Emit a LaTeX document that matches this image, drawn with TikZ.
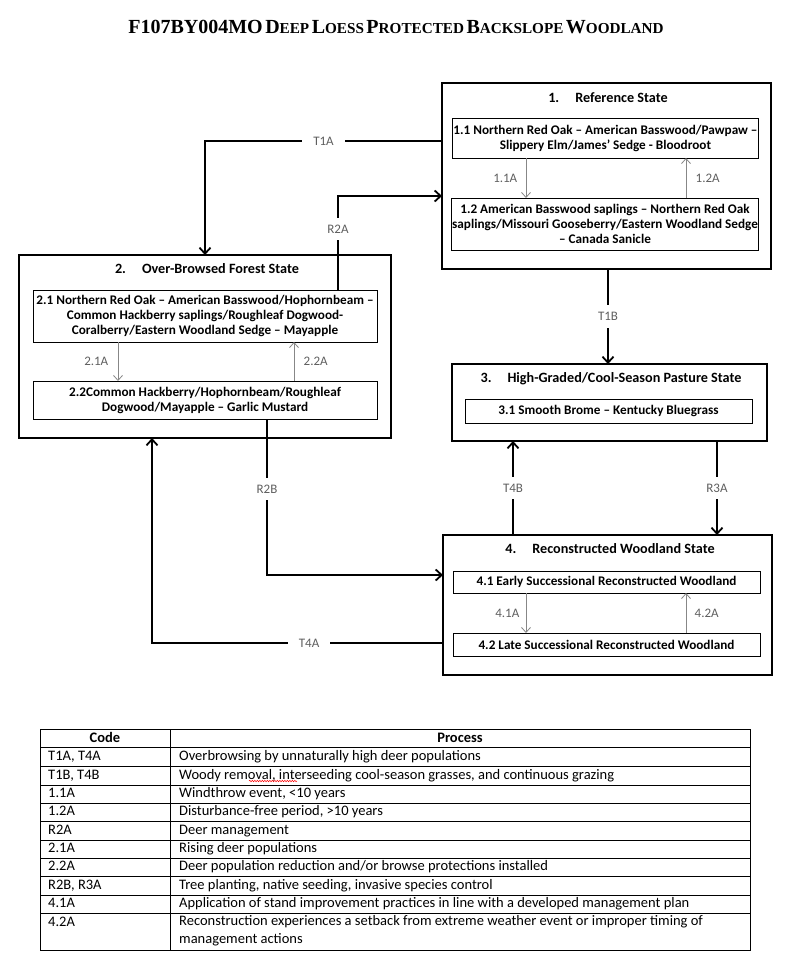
\documentclass[tikz,border=0pt]{standalone}
\usepackage{fontspec}
\setmainfont{Carlito}
\newfontfamily\titlefont{Liberation Serif}
\usetikzlibrary{arrows.meta, decorations.pathmorphing}

\definecolor{lblgray}{RGB}{95,95,95}
\definecolor{phasegray}{RGB}{135,135,135}
\newcommand{\capword}[2]{{\fontsize{20}{21}\selectfont #1}{\fontsize{15.2}{21}\selectfont #2}}

\begin{document}
\begin{tikzpicture}[x=1pt, y=-1pt,
    statebox/.style={draw, line width=1.8pt, inner sep=0pt, outer sep=0pt},
    phasebox/.style={draw, line width=1pt, font=\bfseries\fontsize{13.2}{15}\selectfont, align=center, inner xsep=1pt, inner ysep=0pt, outer sep=0pt},
    statetitle/.style={font=\bfseries\fontsize{14.2}{16}\selectfont},
    trans/.style={line width=1.8pt, -{Straight Barb[length=6pt, width=11pt]}},
    phasearrow/.style={draw=phasegray, line width=0.8pt, -{Straight Barb[length=5pt, width=9pt]}},
    lbl/.style={fill=white, text=lblgray, font=\fontsize{13}{15}\selectfont, inner xsep=11pt, inner ysep=7pt},
    phaselbl/.style={text=lblgray, font=\fontsize{13}{15}\selectfont},
    tblhead/.style={font=\bfseries\fontsize{14.5}{16}\selectfont, text height=10pt, text depth=3pt, inner sep=0pt},
    tbltext/.style={font=\fontsize{14.5}{18}\selectfont, anchor=west, text height=10pt, text depth=3pt, inner sep=0pt}]
\useasboundingbox (0,0) rectangle (800,969);

\node[font=\titlefont\bfseries] (title) at (396,27) {\capword{F107BY004MO}{} \capword{D}{EEP} \capword{L}{OESS} \capword{P}{ROTECTED} \capword{B}{ACKSLOPE} \capword{W}{OODLAND}};

% state 1
\node[statebox, minimum width=329pt, minimum height=186pt] (s1) at (606.5,176) {};
\node[statetitle] (s1t) at (608,98) {1.\hspace{16pt}Reference State};
\node[phasebox, minimum width=305pt, minimum height=40pt] (b11) at (605.5,138) {1.1 Northern Red Oak – American Basswood/Pawpaw –\\Slippery Elm/James’ Sedge - Bloodroot};
\node[phasebox, minimum width=306pt, minimum height=52pt] (b12) at (605,224) {1.2 American Basswood saplings – Northern Red Oak\\saplings/Missouri Gooseberry/Eastern Woodland Sedge\\– Canada Sanicle};

% state 2
\node[statebox, minimum width=372pt, minimum height=183pt] (s2) at (205,346.5) {};
\node[statetitle] (s2t) at (207,269) {2.\hspace{16pt}Over-Browsed Forest State};
\node[phasebox, minimum width=344pt, minimum height=52pt] (b21) at (205,316) {2.1 Northern Red Oak – American Basswood/Hophornbeam –\\Common Hackberry saplings/Roughleaf Dogwood-\\Coralberry/Eastern Woodland Sedge – Mayapple};
\node[phasebox, minimum width=344pt, minimum height=38pt] (b22) at (205,400) {2.2Common Hackberry/Hophornbeam/Roughleaf\\Dogwood/Mayapple – Garlic Mustard};

% state 3
\node[statebox, minimum width=315pt, minimum height=77pt] (s3) at (609.5,402.5) {};
\node[statetitle] (s3t) at (611,379) {3.\hspace{16pt}High-Graded/Cool-Season Pasture State};
\node[phasebox, minimum width=287pt, minimum height=24pt] (b31) at (608.5,411) {3.1 Smooth Brome – Kentucky Bluegrass};

% state 4
\node[statebox, minimum width=329pt, minimum height=140pt] (s4) at (607.5,605) {};
\node[statetitle] (s4t) at (610,549) {4.\hspace{16pt}Reconstructed Woodland State};
\node[phasebox, minimum width=307pt, minimum height=22pt] (b41) at (606.5,582) {4.1 Early Successional Reconstructed Woodland};
\node[phasebox, minimum width=307pt, minimum height=23pt] (b42) at (606.5,644.5) {4.2 Late Successional Reconstructed Woodland};

% community pathways
\coordinate (p11a) at (526,0);
\coordinate (p12a) at (686,0);
\coordinate (p21a) at (118,0);
\coordinate (p22a) at (294,0);
\coordinate (p41a) at (526,0);
\coordinate (p42a) at (686,0);
\draw[phasearrow] (b11.south -| p11a) -- node[phaselbl, left=5pt] {1.1A} (b12.north -| p11a);
\draw[phasearrow] (b12.north -| p12a) -- node[phaselbl, right=6pt] {1.2A} (b11.south -| p12a);
\draw[phasearrow] (b21.south -| p21a) -- node[phaselbl, left=6pt] {2.1A} (b22.north -| p21a);
\draw[phasearrow] (b22.north -| p22a) -- node[phaselbl, right=6pt] {2.2A} (b21.south -| p22a);
\draw[phasearrow] (b41.south -| p41a) -- node[phaselbl, left=3pt] {4.1A} (b42.north -| p41a);
\draw[phasearrow] (b42.north -| p42a) -- node[phaselbl, right=5pt] {4.2A} (b41.south -| p42a);

% transitions and restorations
\coordinate (t1a) at (205,141);
\coordinate (r2a) at (338,196);
\coordinate (t1b) at (608,0);
\coordinate (t4b) at (513,0);
\coordinate (r3a) at (717,0);
\coordinate (r2b) at (267,575);
\coordinate (t4a) at (152,643);
\draw[trans] (s1.west |- t1a) -- node[lbl] {T1A} (t1a) -- (s2.north);
\draw[trans] (b21.north -| r2a) -- node[lbl, pos=0.65] {R2A} (r2a) -- (s1.west |- r2a);
\draw[trans] (s1.south -| t1b) -- node[lbl] {T1B} (s3.north -| t1b);
\draw[trans] (s4.north -| t4b) -- node[lbl] {T4B} (s3.south -| t4b);
\draw[trans] (s3.south -| r3a) -- node[lbl] {R3A} (s4.north -| r3a);
\draw[trans] (b22.south -| r2b) -- node[lbl, pos=0.45] {R2B} (r2b) -- (s4.west |- r2b);
\draw[trans] (s4.west |- t4a) -- node[lbl, pos=0.46] {T4A} (t4a) -- (s2.south -| t4a);

% legend table
\draw[line width=0.9pt] (40,729) rectangle (750,950);
\draw[line width=0.9pt] (170,729) -- (170,950);
\draw[line width=0.9pt] (40,747.7) -- (750,747.7);
\draw[line width=0.9pt] (40,766.5) -- (750,766.5);
\draw[line width=0.9pt] (40,785) -- (750,785);
\draw[line width=0.9pt] (40,803) -- (750,803);
\draw[line width=0.9pt] (40,821.7) -- (750,821.7);
\draw[line width=0.9pt] (40,840) -- (750,840);
\draw[line width=0.9pt] (40,858) -- (750,858);
\draw[line width=0.9pt] (40,876.7) -- (750,876.7);
\draw[line width=0.9pt] (40,895) -- (750,895);
\draw[line width=0.9pt] (40,913) -- (750,913);

\node[tblhead] (hcode) at (105,738.5) {Code};
\node[tblhead] (hproc) at (460,738.5) {Process};
\node[tbltext] (c1) at (48,757.1) {T1A, T4A};
\node[tbltext] (d1) at (179,757.1) {Overbrowsing by unnaturally high deer populations};
\node[tbltext] (c2) at (48,775.7) {T1B, T4B};
\node[tbltext] (d2) at (179,775.7) {Woody removal, interseeding cool-season grasses, and continuous grazing};
\node[tbltext] (c3) at (48,794) {1.1A};
\node[tbltext] (d3) at (179,794) {Windthrow event, <10 years};
\node[tbltext] (c4) at (48,812.3) {1.2A};
\node[tbltext] (d4) at (179,812.3) {Disturbance-free period, >10 years};
\node[tbltext] (c5) at (48,830.8) {R2A};
\node[tbltext] (d5) at (179,830.8) {Deer management};
\node[tbltext] (c6) at (48,849) {2.1A};
\node[tbltext] (d6) at (179,849) {Rising deer populations};
\node[tbltext] (c7) at (48,867.3) {2.2A};
\node[tbltext] (d7) at (179,867.3) {Deer population reduction and/or browse protections installed};
\node[tbltext] (c8) at (48,885.8) {R2B, R3A};
\node[tbltext] (d8) at (179,885.8) {Tree planting, native seeding, invasive species control};
\node[tbltext] (c9) at (48,904) {4.1A};
\node[tbltext] (d9) at (179,904) {Application of stand improvement practices in line with a developed management plan};
\node[tbltext] (c10) at (48,922.5) {4.2A};
\node[tbltext, anchor=north west, text height=, text depth=, align=left] (d10) at (179,915.5) {Reconstruction experiences a setback from extreme weather event or improper timing of\\management actions};

% spell-check mark
\draw[red, line width=0.5pt, decorate, decoration={snake, amplitude=0.7pt, segment length=2.5pt}] (249,781) -- (297,781);

\end{tikzpicture}
\end{document}
